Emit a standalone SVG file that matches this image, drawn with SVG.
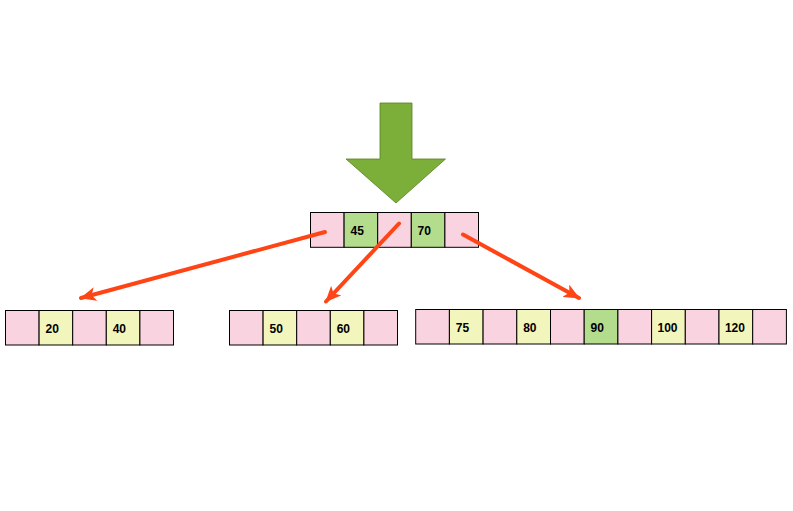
<svg xmlns="http://www.w3.org/2000/svg" width="793" height="511" viewBox="0 0 793 511">
<defs>
<style>
.p{fill:#F9D3E0;stroke:#000;stroke-width:1}
.y{fill:#F2F6BC;stroke:#000;stroke-width:1}
.g{fill:#B3DC8C;stroke:#000;stroke-width:1}
.t{font-family:"Liberation Sans",Arial,sans-serif;font-weight:bold;font-size:12px;fill:#000}
.c{stroke:#FF4516;stroke-width:4;fill:none;stroke-linecap:round}
</style>
<marker id="ah" viewBox="0 0 16 14" refX="15" refY="7" markerWidth="16" markerHeight="14" markerUnits="userSpaceOnUse" orient="auto">
<path d="M0,0 L16,7 L0,14 L4,7 Z" fill="#FF4516"/>
</marker>
</defs>
<rect width="793" height="511" fill="#fff"/>
<g id="bigarrow">
<polygon points="380,103 412,103 412,159 445.5,159 396,203 346,159 380,159" fill="#7CAF3A" stroke="#55811F" stroke-width="0.8"/>
</g>
<g id="root">
<rect class="p" x="310.5" y="212.5" width="33.6" height="34.8"/>
<rect class="g" x="344.1" y="212.5" width="33.6" height="34.8"/>
<rect class="p" x="377.7" y="212.5" width="33.6" height="34.8"/>
<rect class="g" x="411.3" y="212.5" width="33.6" height="34.8"/>
<rect class="p" x="444.9" y="212.5" width="33.6" height="34.8"/>
<text class="t" x="350.5" y="234.5">45</text>
<text class="t" x="417.5" y="234.5">70</text>
</g>
<g id="left">
<rect class="p" x="5.5" y="310.5" width="33.6" height="34.5"/>
<rect class="y" x="39.1" y="310.5" width="33.6" height="34.5"/>
<rect class="p" x="72.7" y="310.5" width="33.6" height="34.5"/>
<rect class="y" x="106.3" y="310.5" width="33.6" height="34.5"/>
<rect class="p" x="139.9" y="310.5" width="33.6" height="34.5"/>
<text class="t" x="45.5" y="332.5">20</text>
<text class="t" x="112.7" y="332.5">40</text>
</g>
<g id="middle">
<rect class="p" x="229.5" y="310.5" width="33.6" height="34.5"/>
<rect class="y" x="263.1" y="310.5" width="33.6" height="34.5"/>
<rect class="p" x="296.7" y="310.5" width="33.6" height="34.5"/>
<rect class="y" x="330.3" y="310.5" width="33.6" height="34.5"/>
<rect class="p" x="363.9" y="310.5" width="33.6" height="34.5"/>
<text class="t" x="269.5" y="332.5">50</text>
<text class="t" x="336.7" y="332.5">60</text>
</g>
<g id="right">
<rect class="p" x="415.7" y="309.5" width="33.7" height="34.5"/>
<rect class="y" x="449.4" y="309.5" width="33.7" height="34.5"/>
<rect class="p" x="483.1" y="309.5" width="33.7" height="34.5"/>
<rect class="y" x="516.8" y="309.5" width="33.7" height="34.5"/>
<rect class="p" x="550.5" y="309.5" width="33.7" height="34.5"/>
<rect class="g" x="584.2" y="309.5" width="33.7" height="34.5"/>
<rect class="p" x="617.9" y="309.5" width="33.7" height="34.5"/>
<rect class="y" x="651.6" y="309.5" width="33.7" height="34.5"/>
<rect class="p" x="685.3" y="309.5" width="33.7" height="34.5"/>
<rect class="y" x="719.0" y="309.5" width="33.7" height="34.5"/>
<rect class="p" x="752.7" y="309.5" width="33.7" height="34.5"/>
<text class="t" x="455.8" y="331.5">75</text>
<text class="t" x="523.2" y="331.5">80</text>
<text class="t" x="590.6" y="331.5">90</text>
<text class="t" x="657.5" y="331.5">100</text>
<text class="t" x="724.9" y="331.5">120</text>
</g>
<g id="connectors">
<line class="c" x1="325" y1="232" x2="81" y2="298" marker-end="url(#ah)"/>
<line class="c" x1="399" y1="223.5" x2="326" y2="301.5" marker-end="url(#ah)"/>
<line class="c" x1="463" y1="234.5" x2="579" y2="298" marker-end="url(#ah)"/>
</g>
</svg>
